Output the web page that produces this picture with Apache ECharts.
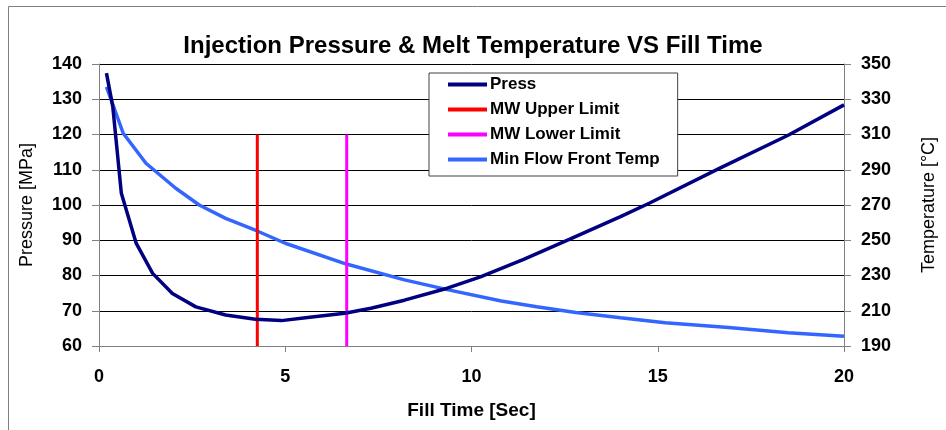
<!DOCTYPE html>
<html>
<head>
<meta charset="utf-8">
<script src="https://cdn.jsdelivr.net/npm/echarts@6/dist/echarts.min.js"></script>
<style>
  html, body { margin: 0; padding: 0; background: #fff; overflow: hidden; }
  #chart { width: 946px; height: 430px; }
</style>
</head>
<body>
<div id="chart"></div>
<script>
// fill time [s] vs injection pressure [MPa]
const pressTime = [0.2, 0.37, 0.6, 1.0, 1.44, 1.97, 2.6, 3.4, 4.2, 4.9, 5.6, 6.6, 7.3, 8.2, 9.35, 10.24, 11.4, 12.64, 14.0, 14.77, 16.64, 18.5, 20];
const pressVal = [137.4, 127.9, 103.3, 89.1, 80.6, 74.9, 71.1, 68.8, 67.6, 67.2, 68.1, 69.3, 70.7, 73.0, 76.4, 79.6, 84.6, 90.3, 96.7, 100.5, 110.3, 119.8, 128.4];
// fill time [s] vs min flow front temperature [°C]
const tempTime = [0.2, 0.65, 1.26, 2.06, 2.69, 3.4, 4.23, 5.0, 6.64, 8.2, 9.35, 10.8, 11.75, 12.8, 14.0, 15.2, 16.9, 18.5, 20];
const tempVal = [337, 310.7, 293.7, 279.5, 270, 262.4, 255.4, 248.3, 236.5, 227.5, 222, 215.5, 212.3, 209, 206, 203.2, 200.5, 197.5, 195.5];
// molding window limits (fill time) and their drawn pressure span
const upperLimit = 4.25;
const lowerLimit = 6.65;
const limitSpan = [60, 120];

const seriesNames = ['Press', 'MW Upper Limit', 'MW Lower Limit', 'Min Flow Front Temp'];
const colors = ['#000080', '#FF0000', '#FF00FF', '#3366FF'];

const pair = (xs, ys) => xs.map((x, i) => [x, ys[i]]);

const fontFamily = 'Liberation Sans, Arial, sans-serif';
const tickFont = { fontFamily: fontFamily, fontWeight: 'bold', fontSize: 18, color: '#000' };
const axisLine = { show: true, lineStyle: { color: '#808080', width: 1 } };

const myChart = echarts.init(document.getElementById('chart'));
myChart.setOption({
  animation: false,
  color: colors,
  graphic: [{
    type: 'rect',
    shape: { x: 8.5, y: 6.5, width: 1000, height: 500 },
    style: { fill: 'none', stroke: '#808080', lineWidth: 1 },
    silent: true
  }],
  title: {
    text: 'Injection Pressure & Melt Temperature VS Fill Time',
    left: 'center',
    top: 29,
    textStyle: { fontFamily: fontFamily, fontWeight: 'bold', fontSize: 24, color: '#000' }
  },
  legend: {
    orient: 'vertical',
    left: 429,
    top: 73,
    padding: [3, 18, 8, 19],
    itemGap: 8,
    itemWidth: 39,
    itemHeight: 4,
    icon: 'rect',
    backgroundColor: '#fff',
    borderColor: '#404040',
    borderWidth: 1,
    borderRadius: 0,
    data: seriesNames,
    textStyle: { fontFamily: fontFamily, fontWeight: 'bold', fontSize: 17, color: '#000', padding: [0, 0, 0, -2] }
  },
  grid: { left: 99, right: 97, top: 64, bottom: 84, containLabel: false },
  xAxis: {
    type: 'value',
    min: 0,
    max: 20,
    interval: 5,
    name: 'Fill Time [Sec]',
    nameLocation: 'middle',
    nameGap: 55,
    nameTextStyle: { fontFamily: fontFamily, fontWeight: 'bold', fontSize: 19, color: '#000' },
    axisLine: axisLine,
    axisTick: { show: true, inside: false, length: 6, lineStyle: { color: '#808080' } },
    axisLabel: Object.assign({ margin: 22 }, tickFont),
    splitLine: { show: false }
  },
  yAxis: [{
    type: 'value',
    min: 60,
    max: 140,
    interval: 10,
    position: 'left',
    name: 'Pressure [MPa]',
    nameLocation: 'middle',
    nameGap: 63,
    nameTextStyle: { fontFamily: fontFamily, fontSize: 18, color: '#000' },
    axisLine: axisLine,
    axisTick: { show: true, length: 7, lineStyle: { color: '#808080' } },
    axisLabel: Object.assign({ margin: 17 }, tickFont),
    splitLine: { show: true, lineStyle: { color: '#000', width: 1 } }
  }, {
    type: 'value',
    min: 190,
    max: 350,
    interval: 20,
    position: 'right',
    name: 'Temperature [°C]',
    nameLocation: 'middle',
    nameGap: 76,
    nameTextStyle: { fontFamily: fontFamily, fontSize: 18, color: '#000' },
    axisLine: axisLine,
    axisTick: { show: true, length: 7, lineStyle: { color: '#808080' } },
    axisLabel: Object.assign({ margin: 17 }, tickFont),
    splitLine: { show: false }
  }],
  series: [
    {
      name: seriesNames[0],
      type: 'line',
      yAxisIndex: 0,
      symbol: 'none',
      lineStyle: { width: 3.5, color: colors[0] },
      data: pair(pressTime, pressVal),
      z: 4
    },
    {
      name: seriesNames[1],
      type: 'line',
      yAxisIndex: 0,
      symbol: 'none',
      lineStyle: { width: 3, color: colors[1] },
      data: limitSpan.map(v => [upperLimit, v]),
      z: 3
    },
    {
      name: seriesNames[2],
      type: 'line',
      yAxisIndex: 0,
      symbol: 'none',
      lineStyle: { width: 3, color: colors[2] },
      data: limitSpan.map(v => [lowerLimit, v]),
      z: 3
    },
    {
      name: seriesNames[3],
      type: 'line',
      yAxisIndex: 1,
      symbol: 'none',
      lineStyle: { width: 3.5, color: colors[3] },
      data: pair(tempTime, tempVal),
      z: 2
    }
  ]
});
</script>
</body>
</html>
